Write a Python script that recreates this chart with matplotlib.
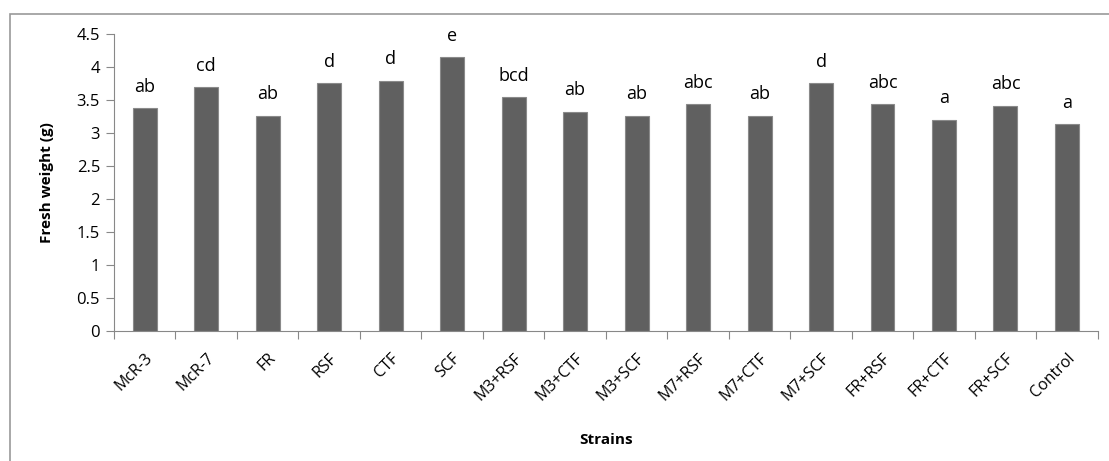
import matplotlib.pyplot as plt
import numpy as np
from matplotlib.patches import Rectangle

# Datos del gráfico
cepas = ['McR-3', 'McR-7', 'FR', 'RSF', 'CTF', 'SCF', 'M3+RSF', 'M3+CTF',
         'M3+SCF', 'M7+RSF', 'M7+CTF', 'M7+SCF', 'FR+RSF', 'FR+CTF', 'FR+SCF', 'Control']
peso_fresco = [3.37, 3.69, 3.26, 3.75, 3.79, 4.14, 3.54, 3.32,
               3.26, 3.43, 3.26, 3.75, 3.43, 3.20, 3.41, 3.13]
letras = ['ab', 'cd', 'ab', 'd', 'd', 'e', 'bcd', 'ab',
          'ab', 'abc', 'ab', 'd', 'abc', 'a', 'abc', 'a']

plt.rcParams['font.family'] = ['Open Sans', 'DejaVu Sans']

fig = plt.figure(figsize=(11.09, 4.61), dpi=100)
ax = fig.add_axes([0.1028, 0.2826, 0.8870, 0.6443])

x = np.arange(len(cepas))
barras = ax.bar(x, peso_fresco, width=0.39, color='#606060', edgecolor='#8a8a8a', linewidth=0.8)

for xi, v, l in zip(x, peso_fresco, letras):
    ax.annotate(l, (xi, v), xytext=(0, 9), textcoords='offset points',
                ha='center', va='bottom', fontsize=13, color='black')

ax.set_xlim(-0.5, len(cepas) - 0.5)
ax.set_ylim(0, 4.5)
ax.set_yticks(np.arange(0, 4.51, 0.5))
ax.set_yticklabels(['0', '0.5', '1', '1.5', '2', '2.5', '3', '3.5', '4', '4.5'])

# Marcas entre categorías, etiquetas centradas en cada barra
ax.set_xticks(np.arange(-0.5, len(cepas), 1.0))
ax.set_xticklabels([])
ax.set_xticks(x, minor=True)
ax.set_xticklabels(cepas, minor=True, rotation=45, ha='right', va='top',
                   rotation_mode='anchor', fontsize=11.5)
ax.tick_params(axis='x', which='minor', length=0, pad=14)
ax.tick_params(axis='x', which='major', length=6, color='#888888', direction='out')
ax.tick_params(axis='y', length=6, color='#888888', labelsize=12, pad=4)

for s in ['top', 'right']:
    ax.spines[s].set_visible(False)
for s in ['left', 'bottom']:
    ax.spines[s].set_color('#888888')

ax.set_ylabel('Fresh weight (g)', fontsize=11, fontweight='bold', labelpad=16)
ax.set_xlabel('Strains', fontsize=11, fontweight='bold')
ax.xaxis.set_label_coords(0.5, -0.345)

# Marco exterior del gráfico
fig.patches.append(Rectangle((10 / 1109, -0.01), 1.1, 1 - 14 / 461 + 0.01,
                             transform=fig.transFigure, fill=False,
                             edgecolor='#999999', linewidth=1.2))

fig.savefig('out.png', dpi=100)
